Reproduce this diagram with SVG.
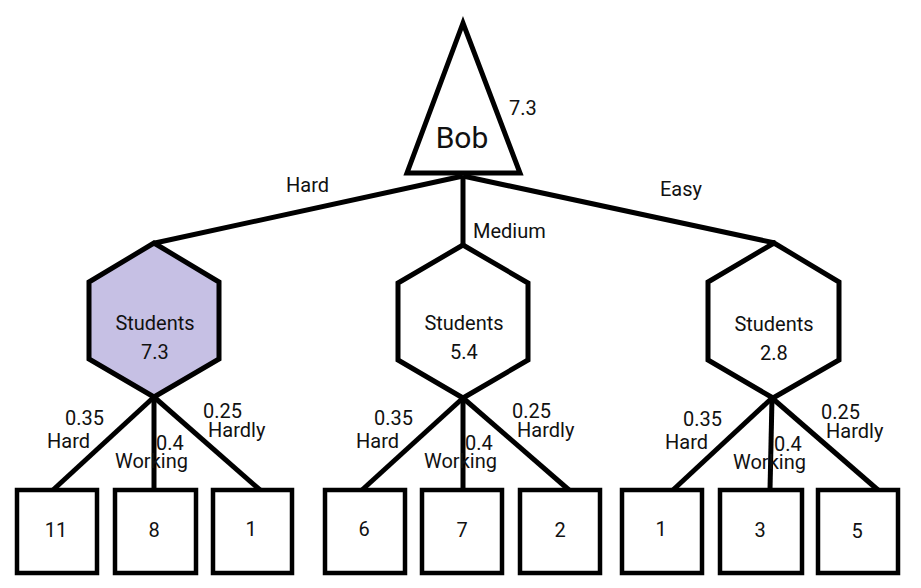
<svg xmlns="http://www.w3.org/2000/svg" width="921" height="588" viewBox="0 0 921 588">
<style>
text{font-family:Roboto,"Liberation Sans",sans-serif;font-size:20px;fill:#111}
.c line{stroke:#000;stroke-width:5}
.shape{stroke:#000;stroke-width:5;fill:#fff;stroke-linejoin:miter}
.box{stroke:#000;stroke-width:4.5;fill:#fff}
.m{text-anchor:middle}
</style>
<rect width="921" height="588" fill="#fff"/>
<g class="c" id="connectors">
<line x1="463" y1="176" x2="155" y2="243"/>
<line x1="463" y1="176" x2="463" y2="246"/>
<line x1="463" y1="176" x2="775" y2="243"/>
<line x1="154" y1="397" x2="53" y2="490"/>
<line x1="154" y1="397" x2="154" y2="490"/>
<line x1="154" y1="397" x2="260" y2="490"/>
<line x1="463" y1="398" x2="362" y2="490"/>
<line x1="463" y1="398" x2="463" y2="490"/>
<line x1="463" y1="398" x2="569" y2="490"/>
<line x1="772" y1="398" x2="673" y2="490"/>
<line x1="772" y1="398" x2="770" y2="490"/>
<line x1="772" y1="398" x2="878" y2="490"/>
<text x="286" y="192">Hard</text>
<text x="473" y="238">Medium</text>
<text x="660" y="196">Easy</text>
<text x="65" y="425">0.35</text>
<text x="47" y="448">Hard</text>
<text x="156" y="450">0.4</text>
<text x="115" y="468">Working</text>
<text x="203" y="418">0.25</text>
<text x="208" y="437">Hardly</text>
<text x="374" y="425">0.35</text>
<text x="356" y="448">Hard</text>
<text x="465" y="450">0.4</text>
<text x="424" y="468">Working</text>
<text x="512" y="418">0.25</text>
<text x="517" y="437">Hardly</text>
<text x="683" y="426">0.35</text>
<text x="665" y="449">Hard</text>
<text x="774" y="451">0.4</text>
<text x="733" y="469">Working</text>
<text x="821" y="419">0.25</text>
<text x="826" y="438">Hardly</text>
</g>
<g id="bob">
<polygon class="shape" points="463,23 407,173 520,173"/>
<text class="m" x="462" y="148" style="font-size:30px">Bob</text>
<text x="509" y="115">7.3</text>
</g>
<g id="students-hard">
<polygon class="shape" style="fill:#c6c0e4" points="154,243 219,282 219,359 154,397 89,359 89,282"/>
<text class="m" x="155" y="330">Students</text>
<text class="m" x="155" y="359">7.3</text>
</g>
<g id="students-medium">
<polygon class="shape" points="463,245 528,283 528,360 463,398 398,360 398,283"/>
<text class="m" x="464" y="330">Students</text>
<text class="m" x="464" y="359">5.4</text>
</g>
<g id="students-easy">
<polygon class="shape" points="774,243 839,282 839,360 773,398 708,360 708,282"/>
<text class="m" x="774" y="331">Students</text>
<text class="m" x="774" y="360">2.8</text>
</g>
<g id="leaf1"><rect class="box" x="17" y="490" width="80" height="83"/><text class="m" x="56" y="537">11</text></g>
<g id="leaf2"><rect class="box" x="115" y="490" width="81" height="83"/><text class="m" x="154" y="537">8</text></g>
<g id="leaf3"><rect class="box" x="213" y="490" width="79" height="83"/><text class="m" x="251" y="536">1</text></g>
<g id="leaf4"><rect class="box" x="325" y="490" width="80" height="83"/><text class="m" x="364" y="536">6</text></g>
<g id="leaf5"><rect class="box" x="422" y="490" width="80" height="83"/><text class="m" x="462" y="537">7</text></g>
<g id="leaf6"><rect class="box" x="520" y="490" width="80" height="83"/><text class="m" x="560" y="537">2</text></g>
<g id="leaf7"><rect class="box" x="622" y="490" width="80" height="83"/><text class="m" x="661" y="536">1</text></g>
<g id="leaf8"><rect class="box" x="720" y="490" width="82" height="83"/><text class="m" x="760" y="537">3</text></g>
<g id="leaf9"><rect class="box" x="818" y="490" width="80" height="83"/><text class="m" x="857" y="538">5</text></g>
</svg>
